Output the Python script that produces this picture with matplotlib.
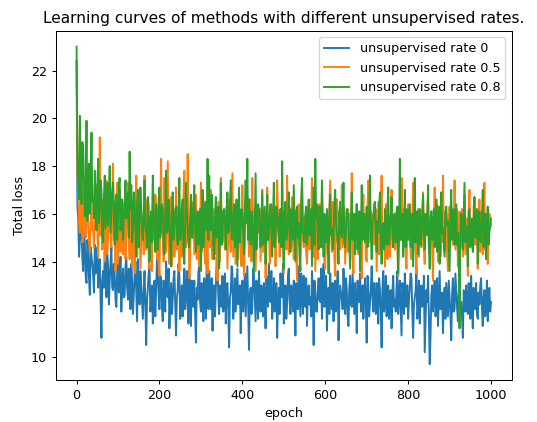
import numpy as np
import matplotlib
matplotlib.use("Agg")
import matplotlib.pyplot as plt

# epochs sampled every 2
epochs = np.arange(0, 1001, 2)

loss_rate0 = [
    22.4, 16.3, 15.8, 14.2, 14.9, 16.0, 15.4, 14.1, 13.6, 15.2,
    14.8, 13.4, 13.1, 14.9, 14.5, 13.3, 12.6, 14.6, 14.2, 13.9,
    13.4, 12.7, 14.7, 13.5, 13.9, 14.6, 12.9, 13.8, 14.1, 12.3,
    10.8, 13.2, 13.6, 12.9, 14.4, 13.6, 12.5, 14.3, 13.8, 12.2,
    13.2, 14.0, 14.6, 12.9, 12.8, 13.9, 13.5, 12.4, 12.1, 13.6,
    14.0, 12.7, 13.3, 14.2, 11.9, 13.1, 13.7, 12.5, 12.6, 13.8,
    14.2, 12.9, 12.4, 13.7, 13.1, 12.0, 13.9, 13.2, 11.8, 12.6,
    13.4, 14.0, 12.7, 11.5, 14.1, 12.8, 12.2, 13.6, 13.0, 12.3,
    11.6, 12.8, 13.6, 12.2, 10.5, 12.4, 12.9, 13.5, 13.8, 11.9,
    12.3, 13.0, 11.4, 12.6, 13.2, 11.7, 12.8, 14.1, 13.9, 12.5,
    12.0, 13.4, 13.3, 12.1, 11.5, 13.2, 12.7, 11.9, 14.0, 12.8,
    12.5, 13.7, 11.2, 12.4, 13.1, 11.8, 12.4, 13.3, 13.6, 12.2,
    10.9, 12.5, 12.8, 13.9, 13.4, 11.6, 12.1, 13.0, 11.7, 12.9,
    13.7, 12.0, 12.6, 13.6, 12.2, 11.4, 13.5, 12.7, 11.3, 13.2,
    12.9, 12.1, 13.2, 11.8, 10.6, 12.9, 12.4, 13.6, 13.8, 12.3,
    11.9, 13.1, 12.7, 11.5, 13.3, 12.8, 11.6, 13.9, 12.5, 12.0,
    13.6, 12.4, 12.0, 13.3, 11.1, 12.6, 13.0, 11.7, 12.8, 14.2,
    13.9, 12.5, 11.8, 13.0, 12.3, 12.1, 13.4, 11.9, 12.6, 13.5,
    11.4, 12.9, 13.1, 12.0, 10.4, 12.5, 12.7, 13.8, 13.5, 11.6,
    12.2, 13.3, 11.9, 12.8, 13.7, 12.2, 12.4, 13.0, 11.0, 12.6,
    13.2, 11.9, 12.6, 13.5, 11.7, 12.8, 13.8, 12.2, 10.3, 12.6,
    12.9, 11.8, 12.1, 13.7, 13.4, 12.4, 11.5, 13.2, 12.8, 11.6,
    13.6, 12.5, 11.9, 13.0, 12.4, 11.7, 13.1, 12.6, 11.2, 13.4,
    12.7, 12.1, 13.9, 12.8, 12.3, 13.6, 11.6, 12.3, 13.3, 11.9,
    12.0, 13.1, 10.8, 12.3, 12.9, 11.8, 13.5, 12.7, 12.5, 13.9,
    11.4, 12.6, 13.0, 11.6, 12.2, 13.4, 13.7, 12.4, 11.8, 13.0,
    12.6, 11.9, 13.2, 12.5, 10.9, 13.1, 12.4, 12.0, 13.8, 12.7,
    11.7, 13.5, 12.8, 11.8, 13.4, 12.2, 12.1, 13.3, 11.3, 12.6,
    13.0, 12.2, 12.5, 11.7, 13.6, 12.6, 10.5, 13.2, 12.7, 11.9,
    11.9, 12.8, 13.3, 12.4, 12.3, 13.7, 11.6, 12.9, 13.9, 12.1,
    12.2, 13.4, 11.1, 12.3, 12.9, 11.8, 13.5, 12.5, 12.0, 13.1,
    11.5, 12.8, 13.2, 11.9, 12.6, 13.6, 10.7, 12.2, 13.0, 12.7,
    12.4, 12.0, 13.7, 12.6, 11.8, 13.3, 12.8, 11.7, 11.3, 12.9,
    13.4, 12.2, 12.1, 13.5, 12.7, 11.8, 13.1, 12.4, 11.0, 13.2,
    12.6, 12.3, 13.5, 11.9, 12.0, 13.0, 11.6, 12.7, 13.3, 12.1,
    10.6, 13.4, 12.9, 11.7, 12.3, 12.8, 13.8, 12.5, 11.9, 13.1,
    12.5, 11.8, 13.1, 12.6, 11.4, 13.3, 12.8, 12.0, 10.4, 12.9,
    13.6, 11.9, 12.2, 13.4, 11.7, 12.3, 13.0, 11.6, 12.6, 12.8,
    11.2, 12.7, 13.4, 12.1, 12.4, 11.9, 12.9, 13.6, 11.8, 12.4,
    13.2, 12.0, 10.9, 13.1, 12.7, 11.8, 13.5, 12.6, 12.1, 13.0,
    11.6, 12.4, 12.9, 13.5, 13.3, 11.9, 10.8, 12.2, 12.5, 12.8,
    13.7, 11.6, 12.0, 13.2, 11.4, 12.6, 13.0, 12.1, 12.3, 13.4,
    10.2, 11.5, 12.8, 12.3, 13.4, 11.8, 9.7, 10.9, 12.6, 13.0,
    11.9, 12.5, 13.2, 11.7, 12.2, 13.3, 11.3, 12.4, 13.6, 12.0,
    12.4, 12.7, 11.0, 12.3, 12.9, 11.6, 13.1, 12.4, 11.7, 13.2,
    12.5, 11.8, 10.7, 12.6, 13.3, 11.9, 12.0, 13.5, 12.8, 12.1,
    11.5, 12.6, 13.5, 12.0, 12.3, 11.7, 10.8, 12.8, 12.7, 11.9,
    13.0, 12.3, 11.8, 13.1, 12.4, 11.6, 13.4, 12.2, 11.2, 12.9,
    12.6, 12.0, 13.1, 11.8, 11.6, 12.7, 12.2, 13.0, 13.3, 12.1,
    11.3, 12.5, 12.8, 11.7, 12.0, 13.2, 11.5, 12.4, 12.9, 11.9,
    12.3,
]

loss_rate05 = [
    22.4, 17.8, 16.9, 15.6, 15.2, 16.8, 17.7, 14.8, 15.0, 17.1,
    16.4, 15.0, 17.9, 16.3, 15.5, 14.9, 14.4, 15.8, 16.7, 15.3,
    15.3, 14.6, 16.1, 16.9, 17.2, 15.4, 14.2, 16.0, 19.2, 15.1,
    15.7, 14.5, 16.6, 15.9, 14.0, 16.4, 17.4, 14.3, 15.1, 16.2,
    16.3, 15.0, 14.6, 16.2, 18.1, 14.9, 15.4, 13.6, 16.0, 17.3,
    13.9, 15.2, 17.0, 14.4, 15.8, 16.6, 14.3, 15.5, 16.5, 14.1,
    15.2, 16.0, 17.3, 14.8, 14.1, 15.5, 16.2, 13.8, 15.6, 16.7,
    13.5, 15.1, 17.6, 14.2, 15.0, 16.3, 16.4, 13.7, 14.7, 15.6,
    15.9, 14.3, 17.6, 15.7, 14.5, 16.6, 16.1, 14.0, 13.7, 15.3,
    15.4, 13.6, 17.2, 15.9, 14.9, 16.8, 16.3, 14.1, 15.1, 13.9,
    13.4, 16.1, 18.3, 15.2, 15.3, 14.0, 17.5, 15.8, 14.4, 16.4,
    18.2, 14.7, 13.9, 15.5, 16.7, 13.8, 15.0, 16.2, 14.2, 15.0,
    17.1, 14.5, 15.5, 16.3, 13.6, 15.0, 16.0, 14.2, 15.2, 16.8,
    17.8, 15.3, 14.6, 14.9, 18.5, 15.7, 13.3, 14.0, 16.2, 15.4,
    15.0, 16.5, 14.3, 15.6, 16.8, 14.1, 15.4, 16.0, 13.8, 15.2,
    17.3, 14.4, 15.1, 16.6, 14.7, 13.9, 16.4, 15.3, 13.5, 16.1,
    15.9, 14.6, 17.0, 15.4, 14.1, 16.2, 15.6, 14.3, 16.3, 15.0,
    13.2, 16.5, 15.3, 14.0, 17.5, 15.8, 14.8, 16.1, 16.0, 14.5,
    15.2, 16.3, 13.7, 15.1, 16.6, 14.8, 14.4, 16.0, 17.7, 14.2,
    15.0, 15.7, 13.9, 16.4, 16.1, 14.1, 15.5, 15.9, 14.6, 13.8,
    17.2, 15.0, 13.4, 14.7, 15.8, 16.1, 16.5, 15.3, 14.2, 16.6,
    15.1, 14.0, 17.5, 15.6, 14.9, 16.2, 13.6, 14.9, 16.3, 15.2,
    15.4, 16.2, 14.0, 15.5, 16.9, 14.4, 15.2, 16.0, 13.3, 14.9,
    17.1, 15.3, 15.6, 13.9, 14.5, 16.4, 16.0, 14.7, 15.0, 15.8,
    13.8, 15.6, 17.4, 16.0, 15.3, 14.2, 14.7, 15.7, 16.2, 14.8,
    13.5, 15.9, 15.9, 14.5, 17.6, 15.2, 14.3, 16.3, 15.5, 14.6,
    16.7, 15.1, 14.1, 16.1, 15.0, 14.3, 13.2, 15.8, 16.4, 14.7,
    15.7, 16.5, 17.3, 15.0, 14.6, 15.9, 15.2, 14.4, 13.9, 16.2,
    16.1, 14.5, 15.4, 16.0, 17.5, 15.2, 14.2, 15.9, 13.6, 15.0,
    16.3, 14.1, 15.1, 16.4, 14.8, 15.3, 17.0, 14.6, 15.6, 13.9,
    13.7, 15.5, 16.0, 14.3, 15.3, 16.2, 17.4, 15.1, 14.4, 16.5,
    15.8, 14.2, 13.4, 15.7, 16.6, 14.8, 15.0, 16.1, 14.5, 15.4,
    17.2, 14.6, 15.5, 16.3, 13.9, 15.0, 16.2, 14.4, 14.7, 16.0,
    15.3, 15.6, 17.7, 14.2, 13.5, 15.7, 15.9, 14.9, 16.4, 15.2,
    14.3, 15.9, 15.1, 14.5, 13.3, 15.7, 16.8, 15.0, 15.6, 14.2,
    14.0, 16.3, 17.4, 14.8, 15.2, 16.1, 14.6, 15.4, 16.0, 14.7,
    15.4, 16.2, 13.6, 15.1, 16.5, 14.3, 14.9, 16.0, 17.6, 14.7,
    15.0, 15.5, 13.8, 16.4, 16.3, 14.1, 15.7, 15.3, 14.2, 15.8,
    17.0, 14.6, 15.3, 16.0, 14.5, 15.2, 16.1, 14.4, 13.4, 15.9,
    15.8, 14.9, 17.5, 15.6, 14.8, 16.2, 15.2, 14.3, 13.7, 15.5,
    16.4, 15.3, 15.0, 14.4, 14.1, 16.0, 17.3, 15.0, 15.6, 14.7,
    13.5, 15.9, 16.2, 14.2, 15.1, 15.8, 14.6, 16.1, 16.9, 14.5,
    13.9, 15.6, 15.4, 16.3, 16.7, 14.6, 14.3, 15.2, 15.8, 14.4,
    13.2, 15.7, 17.1, 14.9, 15.5, 16.4, 14.0, 15.1, 16.0, 14.2,
    15.2, 14.8, 17.6, 15.5, 14.4, 16.1, 15.9, 14.3, 13.6, 15.6,
    16.3, 14.9, 15.0, 16.0, 14.7, 15.2, 17.4, 14.5, 15.3, 16.2,
    13.8, 15.4, 16.1, 14.6, 15.6, 16.2, 14.2, 15.0, 16.8, 14.3,
    15.1, 15.8, 13.4, 16.0, 17.0, 14.8, 15.7, 15.2, 14.5, 16.3,
    16.2, 14.7, 15.0, 15.9, 13.7, 15.3, 16.6, 14.4, 15.4, 16.1,
    14.3, 15.6, 17.3, 14.5, 15.2, 16.0, 13.9, 15.1, 16.0, 15.8,
    15.5,
]

loss_rate08 = [
    23.0, 18.4, 17.2, 16.6, 20.1, 17.5, 16.4, 19.0, 18.8, 17.2,
    15.9, 16.8, 19.9, 15.7, 17.1, 18.1, 16.0, 17.0, 19.4, 16.5,
    16.6, 15.8, 17.8, 16.3, 15.3, 17.1, 18.3, 15.6, 16.2, 17.4,
    17.0, 15.1, 14.8, 16.7, 17.6, 15.4, 16.4, 17.3, 15.5, 16.9,
    18.0, 15.2, 16.1, 17.0, 17.3, 15.9, 14.7, 16.5, 16.8, 14.9,
    15.6, 17.2, 17.5, 15.3, 16.0, 16.6, 14.9, 15.8, 16.2, 17.4,
    15.8, 16.1, 16.9, 15.0, 18.6, 16.2, 17.2, 14.8, 15.4, 16.9,
    16.5, 15.3, 14.2, 16.4, 17.0, 14.6, 15.7, 17.1, 16.3, 15.2,
    14.9, 16.0, 17.4, 15.5, 15.2, 14.6, 16.7, 16.3, 14.0, 15.4,
    16.1, 14.8, 17.6, 16.2, 15.0, 14.4, 16.4, 15.7, 14.5, 16.6,
    17.1, 15.0, 15.6, 16.4, 16.2, 14.7, 14.3, 15.9, 17.8, 15.2,
    15.3, 16.6, 16.0, 14.5, 13.8, 15.8, 16.9, 14.9, 15.5, 16.1,
    16.3, 15.2, 14.7, 16.0, 17.5, 14.9, 15.1, 16.2, 16.6, 14.4,
    13.9, 15.7, 17.3, 16.1, 15.4, 14.8, 14.6, 15.9, 16.8, 15.0,
    15.0, 16.3, 17.2, 15.5, 14.4, 15.8, 16.1, 14.7, 15.7, 16.2,
    13.6, 15.1, 17.0, 14.6, 15.2, 16.4, 16.5, 15.3, 18.3, 14.9,
    17.6, 15.4, 15.3, 16.8, 16.0, 14.6, 14.1, 15.8, 16.7, 15.0,
    15.5, 16.3, 13.7, 15.2, 17.3, 14.7, 15.0, 16.1, 16.2, 15.6,
    14.5, 16.0, 16.9, 15.2, 15.4, 16.4, 17.4, 15.0, 14.9, 15.9,
    16.4, 14.6, 15.1, 16.6, 13.8, 15.5, 17.1, 14.8, 15.6, 16.2,
    16.0, 15.1, 14.3, 16.2, 17.4, 15.6, 18.3, 14.9, 16.6, 15.3,
    14.7, 16.1, 15.9, 14.8, 13.5, 15.7, 17.7, 14.5, 15.3, 16.4,
    16.2, 15.0, 14.6, 15.8, 17.0, 14.7, 15.5, 16.3, 13.9, 15.2,
    16.8, 14.9, 15.1, 16.0, 16.4, 15.4, 14.2, 15.9, 17.3, 14.6,
    15.0, 16.3, 16.1, 15.4, 14.8, 15.9, 16.2, 14.6, 18.2, 15.5,
    13.7, 16.0, 16.5, 14.9, 15.2, 15.8, 16.9, 15.1, 14.4, 16.2,
    15.8, 14.9, 17.2, 15.6, 14.0, 16.1, 16.3, 15.0, 15.6, 14.4,
    13.6, 16.4, 17.5, 15.2, 15.1, 14.8, 16.0, 16.3, 14.7, 15.5,
    16.6, 15.1, 15.3, 16.2, 13.8, 15.5, 17.1, 14.7, 18.3, 15.8,
    16.4, 15.0, 14.5, 16.3, 15.9, 14.6, 17.4, 15.7, 14.2, 16.0,
    15.7, 14.8, 16.2, 15.3, 13.5, 16.0, 16.8, 15.1, 15.4, 14.5,
    14.9, 16.4, 17.0, 15.6, 15.2, 14.9, 13.9, 16.1, 16.5, 15.2,
    15.0, 15.9, 17.3, 14.8, 14.6, 15.4, 16.1, 16.2, 15.6, 14.7,
    13.7, 15.5, 16.9, 14.9, 15.3, 16.0, 14.3, 15.6, 16.4, 14.5,
    15.1, 16.1, 13.6, 15.2, 17.2, 14.9, 15.5, 16.0, 14.8, 15.4,
    16.3, 14.6, 15.0, 16.2, 17.6, 15.3, 14.1, 15.7, 15.8, 16.4,
    16.5, 15.0, 14.4, 15.7, 15.2, 16.3, 16.9, 14.8, 13.9, 15.5,
    15.6, 14.5, 16.2, 15.2, 14.7, 16.1, 17.1, 14.7, 15.3, 15.9,
    16.7, 15.3, 14.6, 15.9, 16.0, 14.8, 15.2, 16.3, 13.5, 15.1,
    18.3, 14.9, 15.4, 16.0, 14.2, 15.5, 17.0, 14.6, 15.8, 16.2,
    14.9, 15.7, 16.4, 14.6, 15.1, 16.0, 13.8, 15.3, 17.5, 14.8,
    15.6, 16.1, 14.3, 15.4, 16.2, 14.7, 15.0, 15.9, 16.8, 15.2,
    14.5, 16.0, 15.9, 15.1, 17.2, 14.7, 13.7, 15.8, 16.1, 14.9,
    15.3, 16.2, 14.6, 15.5, 16.6, 14.4, 15.0, 16.3, 13.9, 15.0,
    16.9, 15.2, 15.4, 14.8, 14.2, 16.0, 16.3, 15.5, 15.7, 14.6,
    13.6, 15.9, 17.0, 14.9, 15.1, 16.2, 14.7, 15.3, 16.4, 14.7,
    15.2, 14.3, 11.2, 15.1, 16.0, 15.7, 14.5, 16.0, 17.3, 14.8,
    15.5, 15.4, 13.8, 16.1, 16.2, 14.6, 15.0, 15.8, 14.4, 15.1,
    16.7, 15.0, 15.3, 16.2, 13.9, 15.4, 16.1, 14.9, 14.8, 15.8,
    17.0, 14.6, 15.6, 16.0, 14.1, 15.3, 16.3, 14.7, 15.2, 15.5,
    15.8,
]

labels = ["unsupervised rate 0", "unsupervised rate 0.5", "unsupervised rate 0.8"]

dpi = 92
fig, ax = plt.subplots(figsize=(537 / dpi, 422 / dpi), dpi=dpi)
fig.subplots_adjust(left=0.104, right=0.953, bottom=0.0995, top=0.927)

ax.plot(epochs, loss_rate0, label=labels[0])
ax.plot(epochs, loss_rate05, label=labels[1])
ax.plot(epochs, loss_rate08, label=labels[2])

ax.set_title("Learning curves of methods with different unsupervised rates.")
ax.set_xlabel("epoch")
ax.set_ylabel("Total loss")
ax.legend(loc="upper right")

fig.savefig("out.png", dpi=dpi)
